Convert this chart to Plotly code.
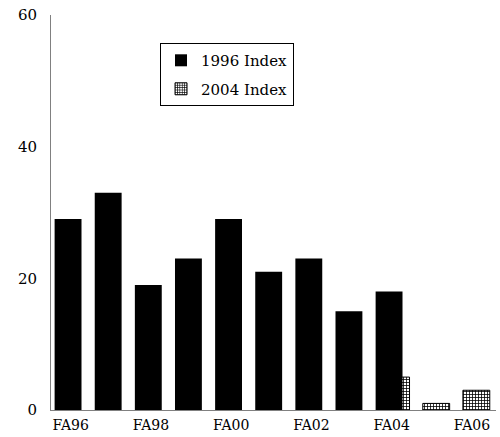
import plotly.graph_objects as go

categories = ["FA96", "FA97", "FA98", "FA99", "FA00", "FA01", "FA02", "FA03", "FA04", "FA05", "FA06"]
index_1996 = [29, 33, 19, 23, 29, 21, 23, 15, 18, None, None]
index_2004 = [None, None, None, None, None, None, None, None, 5, 1, 3]
tick_labels = ["FA96", "FA98", "FA00", "FA02", "FA04", "FA06"]

font_family = "DejaVu Serif"

fig = go.Figure()

fig.add_trace(go.Bar(
    x=categories, y=index_2004, name="2004 Index",
    width=0.67, offset=-0.225,
    marker=dict(color="white", line=dict(color="black", width=1),
                pattern=dict(shape="+", size=3, solidity=0.45,
                             fgcolor="black", bgcolor="white", fillmode="replace")),
    legendrank=2, legendgroup="b",
))
fig.add_trace(go.Bar(
    x=categories, y=index_1996, name="1996 Index",
    width=0.67, offset=-0.4,
    marker=dict(color="black", line=dict(color="black", width=0)),
    legendrank=1, legendgroup="a",
))

fig.update_layout(
    width=500, height=437,
    margin=dict(l=51, r=4, t=15, b=27, autoexpand=False),
    paper_bgcolor="white", plot_bgcolor="white",
    barmode="overlay",
    font=dict(family=font_family, size=15, color="black"),
    showlegend=True,
    legend=dict(
        x=0.245, y=0.929, xanchor="left", yanchor="top",
        bordercolor="black", borderwidth=1, bgcolor="white",
        font=dict(family=font_family, size=15),
        traceorder="grouped", tracegroupgap=6,
    ),
    xaxis=dict(
        type="category", categoryorder="array", categoryarray=categories,
        range=[-0.49, 10.6], automargin=False,
        tickmode="array", tickvals=tick_labels, ticktext=tick_labels,
        showline=True, linecolor="#808080", linewidth=1,
        ticks="", showgrid=False, zeroline=False,
        tickfont=dict(family=font_family, size=14),
        ticklabelstandoff=2,
    ),
    yaxis=dict(
        range=[0, 60], tickvals=[0, 20, 40, 60], automargin=False,
        showline=True, linecolor="#808080", linewidth=1,
        ticks="", showgrid=False, zeroline=False,
        tickfont=dict(family=font_family, size=15),
        ticklabelstandoff=10, ticklabeloverflow="allow",
    ),
)

fig.write_html("out.html", config={"displayModeBar": False},
               post_script="document.body.style.margin='0';")
